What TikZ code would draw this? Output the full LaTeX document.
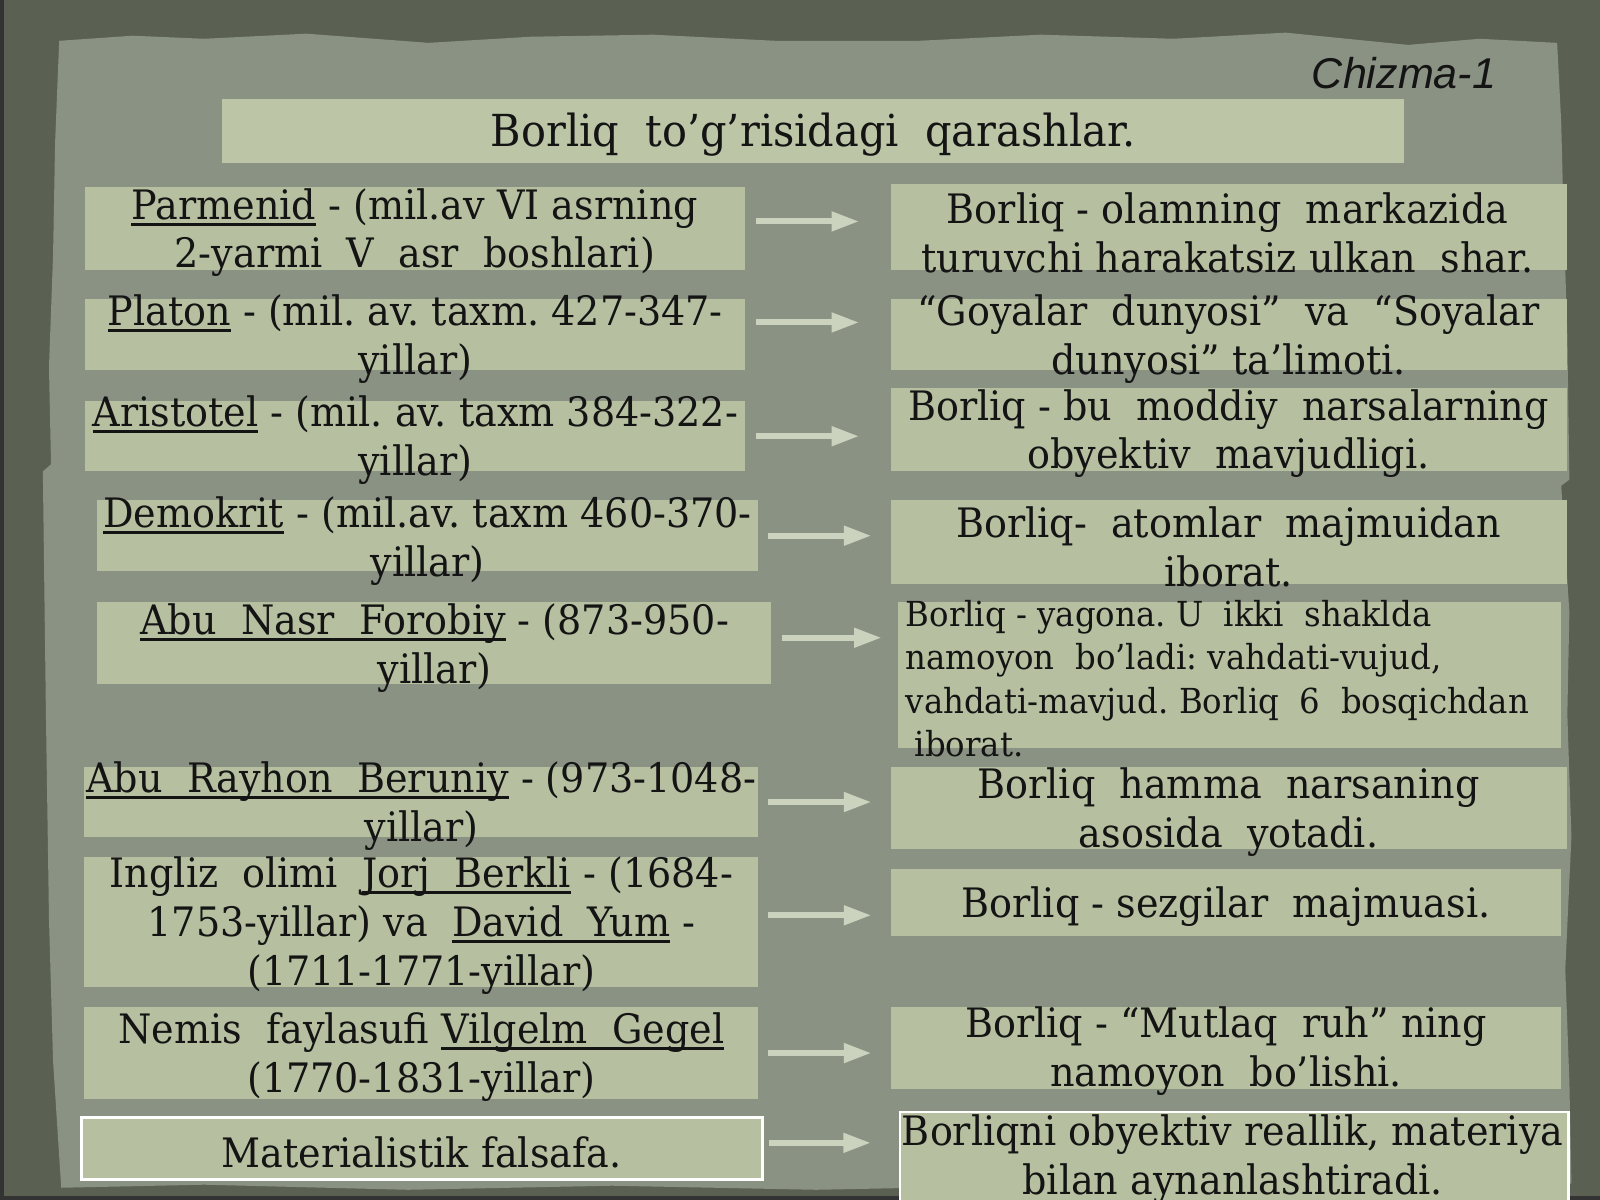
\documentclass[tikz,border=0pt]{standalone}
\usepackage{fontspec}
\setmainfont{DejaVu Serif}[FakeStretch=0.94]
\newfontfamily\chizfont{Liberation Sans}
\usetikzlibrary{arrows.meta}
\definecolor{framec}{HTML}{5A6152}
\definecolor{paperc}{HTML}{8A9283}
\definecolor{boxc}{HTML}{B6C0A0}
\definecolor{titlec}{HTML}{BCC6A7}
\definecolor{arrowc}{HTML}{CBD3BF}
\definecolor{inkc}{HTML}{141414}
\newsavebox\nmbox
\newcommand\nm[1]{\sbox\nmbox{#1}\rlap{\rule[-1.8pt]{\wd\nmbox}{0.75pt}}\usebox\nmbox}
\frenchspacing
\begin{document}
\begin{tikzpicture}[x=0.01cm,y=-0.01cm,
  bx/.style={fill=boxc,draw=none,inner sep=0pt},
  wbx/.style={fill=boxc,draw=white,line width=0.7pt,inner sep=0pt},
  txt/.style={text=inkc,align=center,inner sep=0pt,font=\fontsize{11.3}{13.6}\selectfont},
  arr/.style={draw=arrowc,line width=1.7pt,-{Triangle[length=2.7mm,width=1.8mm]}}
]
\useasboundingbox (0,0) rectangle (1568,1176);
\fill[framec] (0,0) rectangle (1568,1176);
\fill[black!80] (0,0) rectangle (4,1176);
\fill[black!80] (0,1172) rectangle (1568,1176);
% paper
\fill[paperc] (58,40) -- (130,35) -- (200,38) -- (300,33) -- (420,42) -- (520,36) -- (640,34) -- (760,40) -- (900,40) -- (1020,34) -- (1150,38) -- (1260,32) -- (1380,44) -- (1450,38) -- (1526,42)
  -- (1530,120) -- (1532,200) -- (1536,330) -- (1538,470) -- (1530,476) -- (1538,600) -- (1536,700) -- (1540,820) -- (1534,950) -- (1538,1060) -- (1540,1160)
  -- (1200,1166) -- (1000,1162) -- (800,1166) -- (600,1162) -- (400,1166) -- (200,1161) -- (60,1164) -- (52,1040) -- (48,900) -- (45,700) -- (42,462) -- (50,455) -- (48,360) -- (52,250) -- (54,140) -- cycle;
% title
\node[fill=titlec,inner sep=0pt,minimum width=11.58cm,minimum height=0.63cm] (title) at (797,128.5) {};
\node[txt,font=\fontsize{12.3}{14}\selectfont] (titlet) at (797,132) {Borliq~~to’g’risidagi~~qarashlar.};
\node[text=inkc,inner sep=0pt,font=\chizfont\itshape\fontsize{12}{14}\selectfont] (chiz) at (1376,72) {Chizma-1};
% left boxes
\node[bx,minimum width=6.47cm,minimum height=0.82cm] (l1) at (406.5,224) {};
\node[bx,minimum width=6.47cm,minimum height=0.70cm] (l2) at (406.5,328) {};
\node[bx,minimum width=6.47cm,minimum height=0.69cm] (l3) at (406.5,427.5) {};
\node[bx,minimum width=6.48cm,minimum height=0.70cm] (l4) at (419,525) {};
\node[bx,minimum width=6.60cm,minimum height=0.80cm] (l5) at (425,630) {};
\node[bx,minimum width=6.60cm,minimum height=0.68cm] (l6) at (413,786) {};
\node[bx,minimum width=6.60cm,minimum height=1.27cm] (l7) at (413,903.5) {};
\node[bx,minimum width=6.60cm,minimum height=0.90cm] (l8) at (413,1032) {};
\node[wbx,minimum width=6.67cm,minimum height=0.61cm] (l9) at (413.5,1125.5) {};
% right boxes
\node[bx,minimum width=6.62cm,minimum height=0.85cm] (r1) at (1204,222.5) {};
\node[bx,minimum width=6.62cm,minimum height=0.70cm] (r2) at (1204,328) {};
\node[bx,minimum width=6.62cm,minimum height=0.82cm] (r3) at (1204,421) {};
\node[bx,minimum width=6.62cm,minimum height=0.82cm] (r4) at (1204,531) {};
\node[bx,minimum width=6.50cm,minimum height=1.43cm] (r5) at (1205,661.5) {};
\node[bx,minimum width=6.62cm,minimum height=0.80cm] (r6) at (1204,792) {};
\node[bx,minimum width=6.57cm,minimum height=0.65cm] (r7) at (1201.5,884.5) {};
\node[bx,minimum width=6.57cm,minimum height=0.80cm] (r8) at (1201.5,1027) {};
\node[wbx,minimum width=6.55cm,minimum height=0.90cm] (r9) at (1209.5,1135) {};
% left texts
\node[txt] (l1t) at (406.5,228) {\nm{Parmenid} - (mil.av VI asrning\\2-yarmi~~V~~asr~~boshlari)};
\node[txt] (l2t) at (407,332) {\nm{Platon} - (mil. av. taxm. 427-347-\\yillar)};
\node[txt] (l3t) at (407,431) {\nm{Aristotel} - (mil. av. taxm 384-322-\\yillar)};
\node[txt] (l4t) at (419,530) {\nm{Demokrit} - (mil.av. taxm 460-370-\\yillar)};
\node[txt] (l5t) at (426,635) {\nm{Abu~~Nasr~~Forobiy} - (873-950-\\yillar)};
\node[txt] (l6t) at (413,790) {\nm{Abu~~Rayhon~~Beruniy} - (973-1048-\\yillar)};
\node[txt] (l7t) at (413,907) {Ingliz~~olimi~~\nm{Jorj~~Berkli} - (1684-\\1753-yillar) va~~\nm{David~~Yum} -\\(1711-1771-yillar)};
\node[txt] (l8t) at (413,1036) {Nemis~~faylasufi \nm{Vilgelm~~Gegel}\\(1770-1831-yillar)};
\node[txt] (l9t) at (413,1129) {Materialistik falsafa.};
% right texts
\node[txt] (r1t) at (1203,228) {Borliq - olamning~~markazida\\turuvchi harakatsiz ulkan~~shar.};
\node[txt] (r2t) at (1204,332) {“Goyalar~~dunyosi”~~va~~“Soyalar\\dunyosi” ta’limoti.};
\node[txt] (r3t) at (1204,425) {Borliq - bu~~moddiy~~narsalarning\\obyektiv~~mavjudligi.};
\node[txt] (r4t) at (1204,536) {Borliq-~~atomlar~~majmuidan\\iborat.};
\node[txt,align=left,anchor=west,font=\fontsize{9.6}{12.1}\selectfont] (r5t) at (887,665) {Borliq - yagona. U~~ikki~~shaklda\\namoyon~~bo’ladi: vahdati-vujud,\\vahdati-mavjud. Borliq~~6~~bosqichdan\\\hspace*{2.5pt}iborat.};
\node[txt] (r6t) at (1204,796) {Borliq~~hamma~~narsaning\\asosida~~yotadi.};
\node[txt] (r7t) at (1201.5,888) {Borliq - sezgilar~~majmuasi.};
\node[txt] (r8t) at (1201.5,1030) {Borliq - “Mutlaq~~ruh” ning\\namoyon~~bo’lishi.};
\node[txt] (r9t) at (1208,1136) {Borliqni obyektiv reallik, materiya\\bilan aynanlashtiradi.};
% arrows
\draw[arr,shorten <=0.1cm,shorten >=0.3cm] ([yshift=0.07cm]l1.east) -- ([yshift=0.07cm]l1.east -| r1.west);
\draw[arr,shorten <=0.1cm,shorten >=0.3cm] ([yshift=0.12cm]l2.east) -- ([yshift=0.12cm]l2.east -| r2.west);
\draw[arr,shorten <=0.1cm,shorten >=0.3cm] (l3.east) -- (l3.east -| r3.west);
\draw[arr,shorten <=0.09cm,shorten >=0.18cm] (l4.east) -- (l4.east -| r4.west);
\draw[arr,shorten <=0.1cm,shorten >=0.15cm] ([yshift=0.05cm]l5.east) -- ([yshift=0.05cm]l5.east -| r5.west);
\draw[arr,shorten <=0.09cm,shorten >=0.18cm] (l6.east) -- (l6.east -| r6.west);
\draw[arr,shorten <=0.09cm,shorten >=0.18cm] ([yshift=0.065cm]l7.east) -- ([yshift=0.065cm]l7.east -| r7.west);
\draw[arr,shorten <=0.09cm,shorten >=0.18cm] (l8.east) -- (l8.east -| r8.west);
\draw[arr,shorten <=0.05cm,shorten >=0.27cm] ([yshift=0.055cm]l9.east) -- ([yshift=0.055cm]l9.east -| r9.west);
\end{tikzpicture}
\end{document}
